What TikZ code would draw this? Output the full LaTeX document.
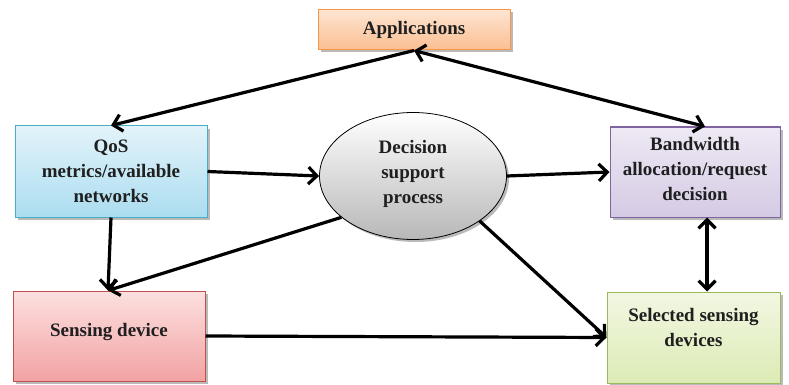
\documentclass[tikz,border=0pt]{standalone}
\usepackage{fontspec}
\setmainfont{Liberation Serif}
\usetikzlibrary{arrows.meta,shadows,calc,shapes.geometric}
\definecolor{orB}{HTML}{F79646}\definecolor{orT}{HTML}{FDE5D1}\definecolor{orM}{HTML}{FBBE92}
\definecolor{blB}{HTML}{4BACC6}\definecolor{blT}{HTML}{E3F3FA}\definecolor{blM}{HTML}{ABDDF0}
\definecolor{puB}{HTML}{8064A2}\definecolor{puT}{HTML}{EEE9F4}\definecolor{puM}{HTML}{D5CAE4}
\definecolor{reB}{HTML}{C0504D}\definecolor{reT}{HTML}{FCE0E0}\definecolor{reM}{HTML}{F2A2A2}
\definecolor{grB}{HTML}{9BBB59}\definecolor{grT}{HTML}{F2F7E2}\definecolor{grM}{HTML}{DCEBB5}
% lift the text by #1 inside its node: add 2*#1 of depth below it
\newcommand{\liftlines}[2]{\raisebox{0pt}[\height][\dimexpr\depth+#1+#1\relax]{\begin{tabular}{@{}c@{}}#2\end{tabular}}}
\tikzset{
  boxbase/.style={rectangle, inner sep=0pt, line width=1pt, align=center,
    font=\fontsize{19}{25}\selectfont\bfseries, text=black!88,
    drop shadow={shadow xshift=2.5pt, shadow yshift=-2.5pt, opacity=.45, fill=black!60}},
  tip/.tip={Straight Barb[length=8.5pt,width=17pt,line width=3.2pt]},
  conn/.style={line width=3.2pt, -tip},
  biconn/.style={line width=3.2pt, tip-tip}
}
\begin{document}
\begin{tikzpicture}[x=1pt,y=-1pt]
\useasboundingbox (0,0) rectangle (789,385);
\node[boxbase, draw=orB, top color=orT, bottom color=orM, minimum width=192pt, minimum height=40pt] (app) at (414,30) {Applications};
\node[boxbase, draw=blB, top color=blT, bottom color=blM, minimum width=192pt, minimum height=91pt] (qos) at (111,171.5) {QoS\\metrics/available\\networks};
\node[boxbase, draw=puB, top color=puT, bottom color=puM, minimum width=170pt, minimum height=90pt] (bw) at (695,172) {\liftlines{2pt}{Bandwidth\\allocation/request\\decision}};
\node[boxbase, ellipse, draw=black, line width=0.8pt, top color=white, bottom color=black!28, minimum width=187pt, minimum height=127pt] (dec) at (413,176) {\liftlines{3pt}{Decision\\support\\process}};
\node[boxbase, draw=reB, top color=reT, bottom color=reM, minimum width=192pt, minimum height=90pt] (sens) at (109,336) {\liftlines{5pt}{Sensing device}};
\node[boxbase, draw=grB, top color=grT, bottom color=grM, minimum width=173pt, minimum height=91pt] (sel) at (693.5,337.5) {\liftlines{9pt}{Selected sensing\\devices}};

\draw[conn] (app.south) -- (qos.north);
\draw[biconn] (app.south) -- ([xshift=10pt]bw.north);
\draw[conn] (qos.east) -- (dec.west);
\draw[conn] (dec.east) -- (bw.west);
\draw[biconn] ([xshift=12pt]bw.south) -- ([xshift=12pt]bw.south |- sel.north);
\draw[conn] (qos.south) -- ([xshift=-1pt]sens.north);
\draw[conn] (dec.210) -- ([xshift=-1pt]sens.north);
\draw[conn] (dec.-34) -- (sel.west);
\draw[conn] (sens.east) -- (sel.west);
\end{tikzpicture}
\end{document}
